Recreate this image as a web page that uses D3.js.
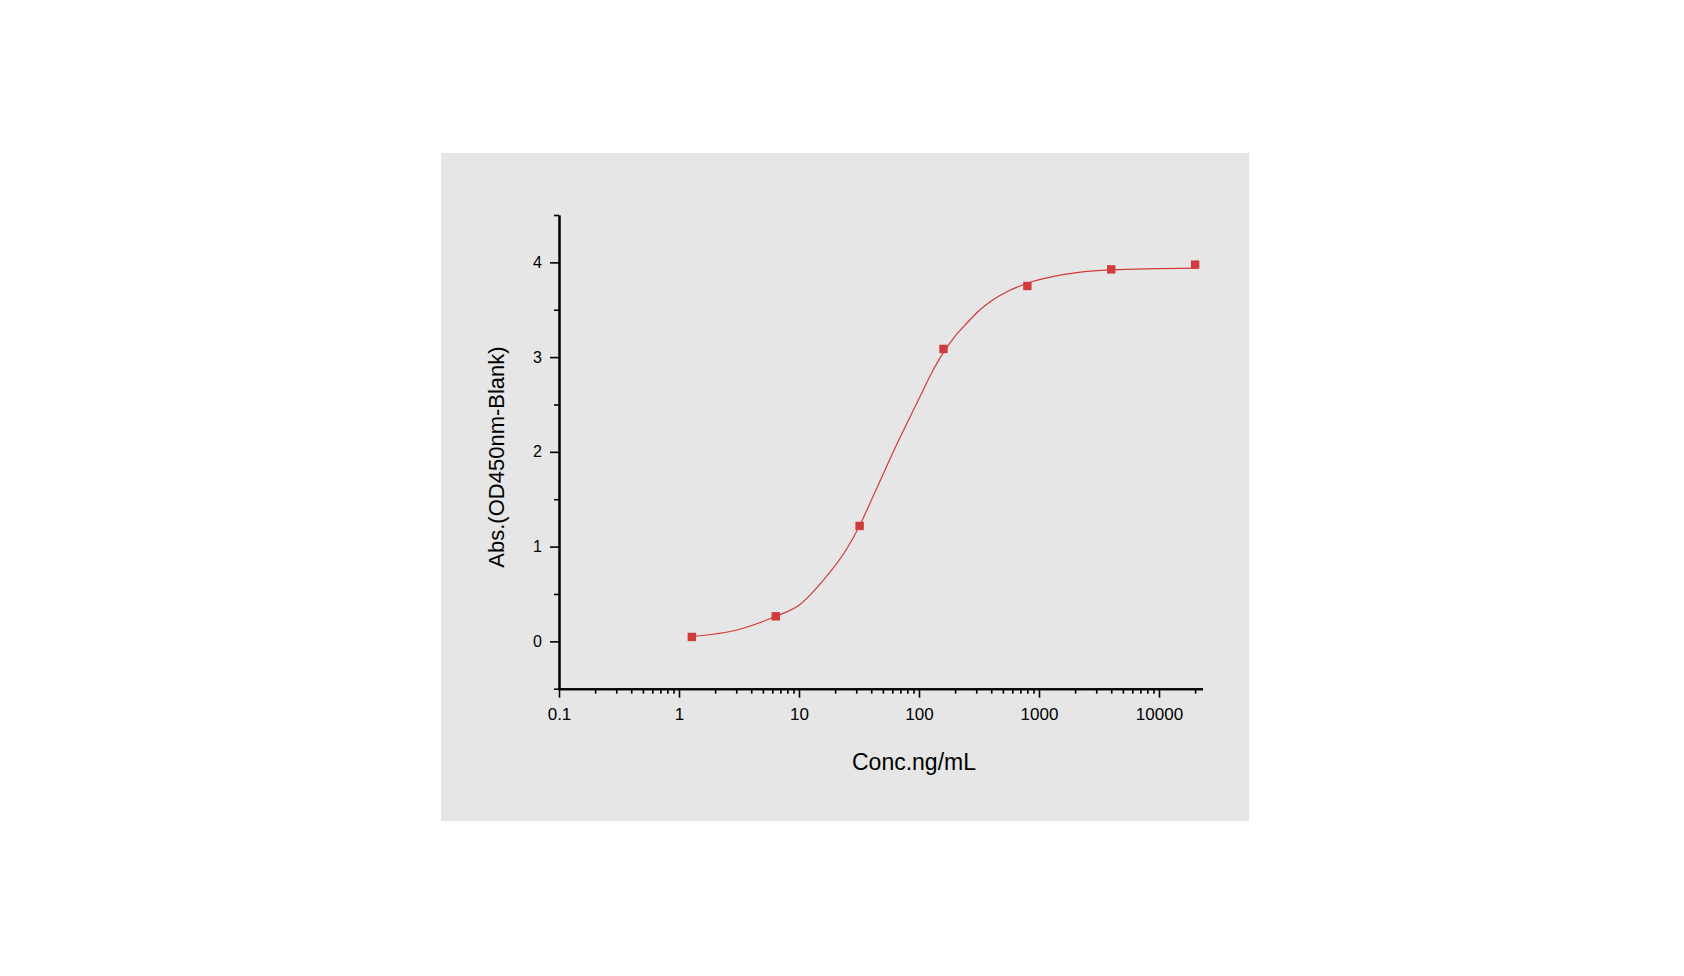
<!DOCTYPE html>
<html>
<head>
<meta charset="utf-8">
<script src="https://cdn.jsdelivr.net/npm/d3@7"></script>
<style>
  body { margin: 0; background: #fff; }
  svg { display: block; }
  text { font-family: "Liberation Sans", Arial, sans-serif; fill: #000; }
</style>
</head>
<body>
<div id="chart"></div>
<script>
// ELISA standard curve (log x, OD450)

const conc = [1.28, 6.4, 32, 160, 800, 4000, 20000];
const absValues = [0.046, 0.264, 1.218, 3.086, 3.751, 3.926, 3.976];

// fitted curve
const fitConc = [1.28, 3.16, 6.4, 10, 15.85, 25.1, 32, 39.8, 50.1, 63.1, 100, 125.9, 160,
    199.5, 251, 316, 398, 562, 800, 1585, 3981, 20000];
const fitAbs = [0.05, 0.125, 0.264, 0.38, 0.64, 0.98, 1.22, 1.48, 1.76, 2.04, 2.56, 2.82, 3.05,
    3.22, 3.36, 3.49, 3.59, 3.7, 3.78, 3.87, 3.92, 3.94];

const xMajorTicks = [0.1, 1, 10, 100, 1000, 10000];
const xTickLabels = ['0.1', '1', '10', '100', '1000', '10000'];
const yMajorTicks = [0, 1, 2, 3, 4];
const yTickLabels = ['0', '1', '2', '3', '4'];
const xDomain = [0.1, 23000];
const yDomain = [-0.5, 4.5];

const RED = '#d13b3b';

const svg = d3.select('#chart')
    .append('svg')
    .attr('width', 1684)
    .attr('height', 976);

// gray panel
svg.append('rect')
    .attr('x', 441)
    .attr('y', 153)
    .attr('width', 808)
    .attr('height', 668)
    .attr('fill', '#e6e6e6');

const x = d3.scaleLog().domain(xDomain).range([559, 1202.4]);
const y = d3.scaleLinear().domain(yDomain).range([688.7, 215]);

// x axis
const xMinor = x.ticks().filter(v => !xMajorTicks.includes(v));

const xAxisG = svg.append('g').attr('transform', `translate(0,${y(yDomain[0])})`);
xAxisG.append('g')
    .call(d3.axisBottom(x).tickValues(xMinor).tickSize(5).tickSizeOuter(0).tickFormat(''));
xAxisG.append('g')
    .call(d3.axisBottom(x).tickValues(xMajorTicks).tickSize(9).tickSizeOuter(0).tickPadding(10)
        .tickFormat((d, i) => xTickLabels[i]));

// y axis
const yMinor = d3.range(yDomain[0], yDomain[1] + 0.01, 0.5).filter(v => !yMajorTicks.includes(v));

const yAxisG = svg.append('g').attr('transform', `translate(${x(xDomain[0])},0)`);
yAxisG.append('g')
    .call(d3.axisLeft(y).tickValues(yMinor).tickSize(5).tickSizeOuter(0).tickFormat(''));
yAxisG.append('g')
    .call(d3.axisLeft(y).tickValues(yMajorTicks).tickSize(9).tickSizeOuter(0).tickPadding(8)
        .tickFormat((d, i) => yTickLabels[i]));

svg.selectAll('.domain').attr('stroke', '#000').attr('stroke-width', 2);
svg.selectAll('.tick line').attr('stroke', '#000').attr('stroke-width', 1.6);
xAxisG.selectAll('text').attr('font-size', '17px').attr('font-family', '"Liberation Sans", Arial, sans-serif');
yAxisG.selectAll('text').attr('font-size', '16px').attr('font-family', '"Liberation Sans", Arial, sans-serif');

// axis titles
svg.append('text')
    .attr('x', 914)
    .attr('y', 770)
    .attr('text-anchor', 'middle')
    .attr('font-size', '23px')
    .text('Conc.ng/mL');

svg.append('text')
    .attr('transform', 'translate(504,457) rotate(-90)')
    .attr('text-anchor', 'middle')
    .attr('font-size', '22px')
    .text('Abs.(OD450nm-Blank)');

// fit curve
const fitData = fitConc.map((c, i) => ({ c, v: fitAbs[i] }));
const line = d3.line()
    .x(d => x(d.c))
    .y(d => y(d.v))
    .curve(d3.curveMonotoneX);

svg.append('path')
    .datum(fitData)
    .attr('d', line)
    .attr('fill', 'none')
    .attr('stroke', RED)
    .attr('stroke-width', 1.2);

// data points
const pts = conc.map((c, i) => ({ c, v: absValues[i] }));
svg.append('g')
    .selectAll('rect')
    .data(pts)
    .join('rect')
    .attr('x', d => x(d.c) - 4.2)
    .attr('y', d => y(d.v) - 4.2)
    .attr('width', 8.4)
    .attr('height', 8.4)
    .attr('fill', RED);
</script>
</body>
</html>
